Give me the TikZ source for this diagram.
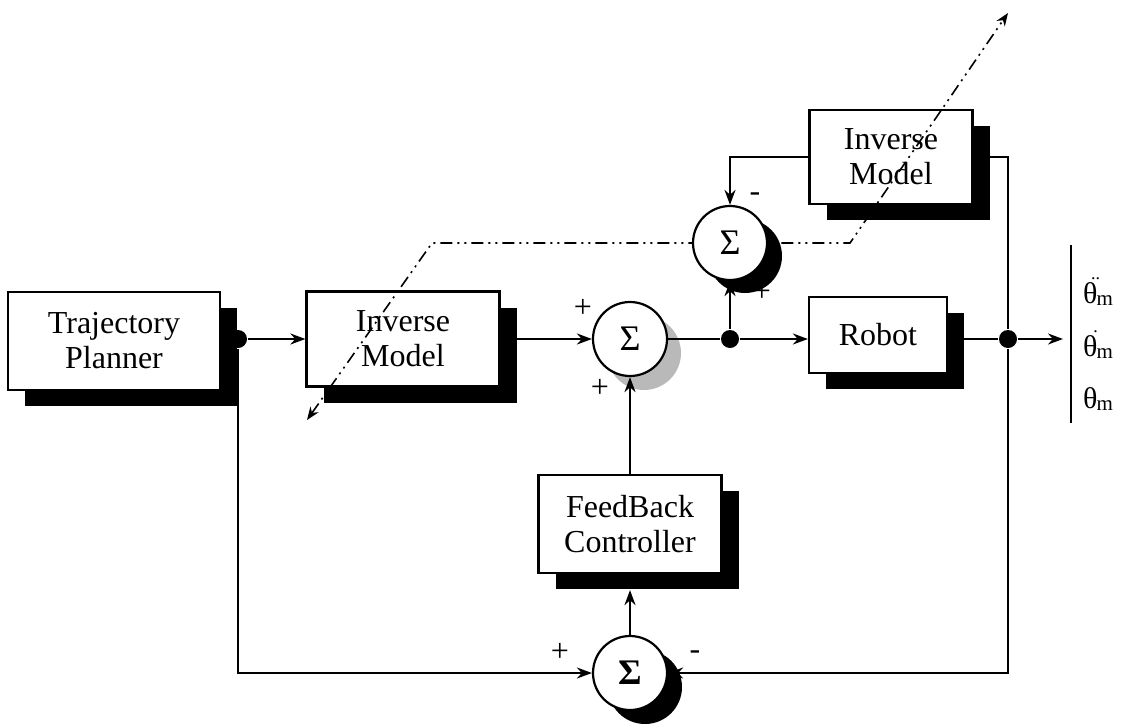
\documentclass[tikz,border=0pt]{standalone}
\usepackage{fontspec}
\setmainfont{Liberation Serif}
\usetikzlibrary{arrows.meta,shadows}

% theta_m, with optional dots set above
\newcommand{\thm}[1]{θ\hspace{-2pt}\makebox[0pt][c]{\smash{\raisebox{24pt}{\fontsize{18}{18}\selectfont #1}}}\hspace{1pt}\raisebox{-2pt}{\fontsize{21}{21}\selectfont m}}

\begin{document}
\begin{tikzpicture}[x=1pt,y=-1pt,line width=2.2pt,
  >={Stealth[length=15pt,width=11pt]},
  block/.style={draw,fill=white,align=center,inner sep=0pt,
    font=\fontsize{32}{35}\selectfont,
    drop shadow={fill=black,opacity=1,shadow xshift=17pt,shadow yshift=-16pt}},
  sumnode/.style={draw,fill=white,circle,minimum size=74pt,inner sep=0pt,
    font=\fontsize{36}{36}\selectfont},
  junc/.style={fill=black,circle,minimum size=18pt,inner sep=0pt},
  sgn/.style={font=\fontsize{32}{32}\selectfont,inner sep=0pt},
  learn/.style={line width=1.6pt,
    dash pattern=on 12pt off 5pt on 2pt off 5pt on 2pt off 5pt}]
\useasboundingbox (0,0) rectangle (1126,723);

% blocks
\node[block,minimum width=212pt,minimum height=98pt] (traj) at (114,341) {Trajectory\\Planner};
\node[block,minimum width=193pt,minimum height=95pt] (inv) at (403,339) {Inverse\\Model};
\node[block,minimum width=138pt,minimum height=76pt] (robot) at (878,335) {Robot};
\node[block,minimum width=163pt,minimum height=94pt] (invtop) at (891,157) {Inverse\\Model};
\node[block,minimum width=183pt,minimum height=98pt] (fb) at (630,524) {FeedBack\\Controller};

% summing junctions
\node[sumnode,drop shadow={fill=gray!55,opacity=1,shadow xshift=14pt,shadow yshift=-14pt}] (sum1) at (630,339) {Σ};
\node[sumnode,drop shadow={fill=black,opacity=1,shadow xshift=15pt,shadow yshift=-14pt}] (sum3) at (630,673) {\textbf{Σ}};

% branch points
\node[junc] (dot1) at (238,339) {};
\node[junc] (dot2) at (730,339) {};
\node[junc] (dot3) at (1008,339) {};
\coordinate (out) at (1063,339);

% forward path
\draw (traj.east |- dot1) -- (dot1);
\draw[->] (dot1) -- (inv.west |- dot1);
\draw[->] (inv.east |- sum1) -- (sum1.west);
\draw (sum1.east) -- (dot2);
\draw[->] (dot2) -- (robot.west |- dot2);
\draw (robot.east |- dot3) -- (dot3);
\draw[->] (dot3) -- (out);

% feedback loop
\coordinate (fbs) at ([yshift=-16pt]fb.south);
\draw[->] (dot1) |- (sum3.west);
\draw[->] (dot3) |- (sum3.east);
\draw[->] (sum3.north) -- (sum3.north |- fbs);
\draw[->] (fb.north) -- (sum1.south);
\draw (dot3) |- (invtop.east);

\node[sgn] (p1) at (583,308) {+};
\node[sgn] (p2) at (600,388) {+};
\node[sgn] (p5) at (560,652) {+};
\node[sgn] (m3) at (695,655) {-};

% learning path
\coordinate (ltip) at (307,420);
\coordinate (la) at (432,243);
\coordinate (lb) at (850,243);
\coordinate (rtip) at (1008,13);
\draw[learn,{Stealth[length=13pt,width=10pt]}-{Stealth[length=13pt,width=10pt]}]
  (ltip) -- (la) -- (lb) -- (rtip);

\node[sgn] (p4) at (762,292) {+};
\node[sumnode,drop shadow={fill=black,opacity=1,shadow xshift=15pt,shadow yshift=-13pt}] (sum2) at (730,243) {Σ};
\node[sgn] (m2) at (755,197) {-};
\draw[->] (invtop.west) -| (sum2.north);
\draw[->] (dot2) -- (sum2.south);

% outputs
\coordinate (bartop) at (1071,245);
\coordinate (barbot) at (1071,423);
\draw (bartop) -- (barbot);
\node[font=\fontsize{30}{30}\selectfont] (acc) at (1098,294) {\thm{..}};
\node[font=\fontsize{30}{30}\selectfont] (vel) at (1098,347) {\thm{.}};
\node[font=\fontsize{30}{30}\selectfont] (pos) at (1098,399) {\thm{}};
\end{tikzpicture}
\end{document}
